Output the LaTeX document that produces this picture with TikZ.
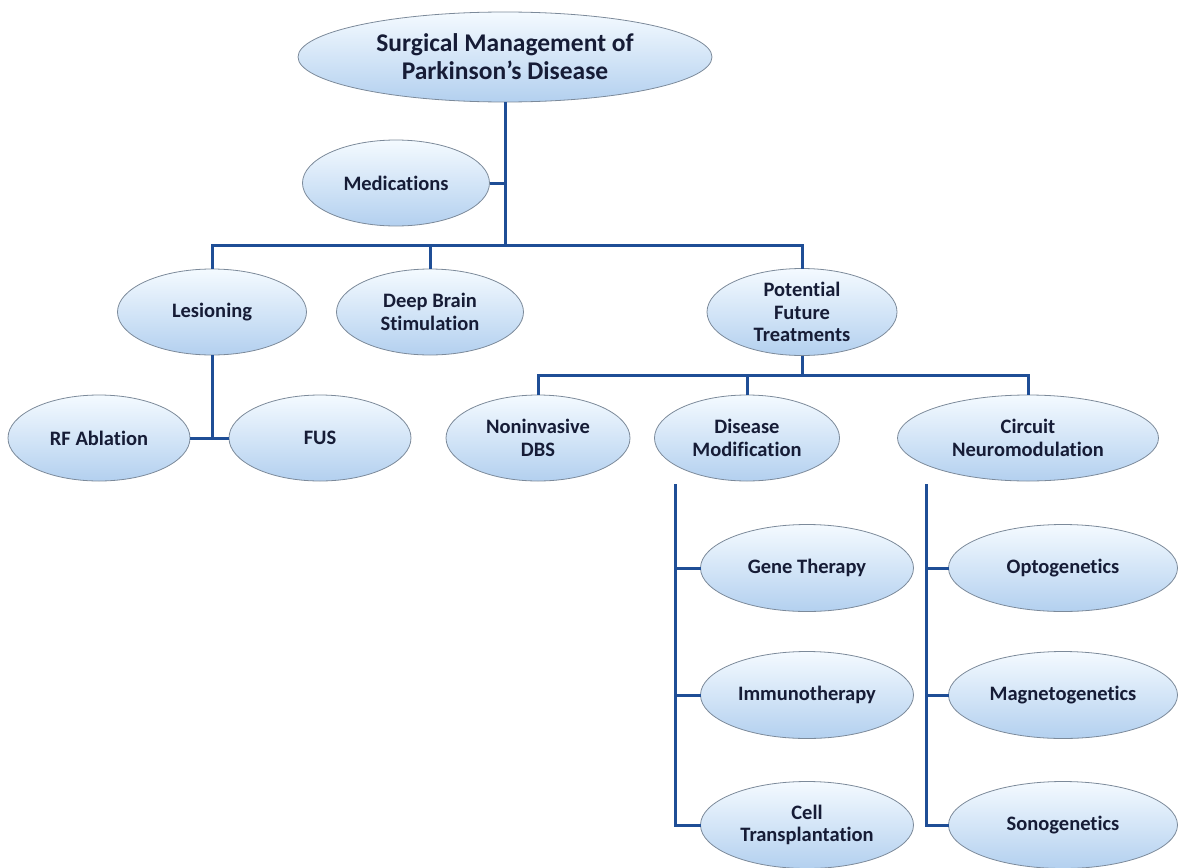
\documentclass[tikz,border=0pt]{standalone}
\usepackage{fontspec}
\setmainfont{Carlito}[Ligatures={NoCommon}]
\usepackage{tikz}
\usetikzlibrary{shapes.geometric}

\definecolor{linkblue}{HTML}{1F4E96}
\definecolor{inkblue}{HTML}{161C36}
\definecolor{ovaltop}{HTML}{F4FAFF}
\definecolor{ovalbot}{HTML}{B3D0EF}
\definecolor{ovalrim}{HTML}{7C8A9A}

\begin{document}
\begin{tikzpicture}[x=1pt,y=-1pt,
  oval/.style n args={2}{ellipse,draw=ovalrim,line width=0.8pt,top color=ovaltop,bottom color=ovalbot,
    minimum width=#1,minimum height=#2,inner sep=0pt,outer sep=0pt,align=center,text=inkblue,
    font=\bfseries\fontsize{20.5}{22.5}\selectfont},
  link/.style={linkblue,line width=3pt}]
\useasboundingbox (0,0) rectangle (1182,867);
% ovals
\node[oval={414}{90},font=\bfseries\fontsize{25.5}{28}\selectfont] (surg) at (505,57) {Surgical Management of\\Parkinson’s Disease};
\node[oval={187}{86}] (med) at (396,183) {Medications};
\node[oval={189}{86}] (les) at (212,312) {Lesioning};
\node[oval={187}{86}] (dbs) at (430,312) {Deep Brain\\Stimulation};
\node[oval={190}{87}] (fut) at (802,312) {Potential\\Future\\Treatments};
\node[oval={182}{86}] (rfa) at (99,438) {RF Ablation};
\node[oval={182}{86}] (fus) at (320,438) {FUS};
\node[oval={184}{86}] (ndbs) at (538,438) {Noninvasive\\DBS};
\node[oval={185}{86}] (dmod) at (747,438) {Disease\\Modification};
\node[oval={261}{86}] (circ) at (1028,438) {Circuit\\Neuromodulation};
\foreach \n/\y/\t in {gene/568/Gene Therapy,immu/695/Immunotherapy,cell/825/{Cell\\Transplantation}}
  \node[oval={213}{87}] (\n) at (807,\y) {\t};
\foreach \n/\y/\t in {opto/568/Optogenetics,magn/695/Magnetogenetics,sono/825/Sonogenetics}
  \node[oval={229}{87}] (\n) at (1063,\y) {\t};
% connectors
\coordinate (j1) at (505,245);
\coordinate (j2) at (802,375);
\coordinate (d0) at (675,484);
\coordinate (c0) at (926,484);
\draw[link] (surg.south) -- (j1);
\draw[link] (med.east) -- (med.east -| j1);
\draw[link] (les.north) |- (j1) -| (fut.north);
\draw[link] (dbs.north) -- (dbs.north |- j1);
\draw[link] (les.south) -- (les.south |- rfa.east);
\draw[link] (rfa.east) -- (fus.west);
\draw[link] (fut.south) -- (j2);
\draw[link] (ndbs.north) |- (j2) -| (circ.north);
\draw[link] (dmod.north) -- (dmod.north |- j2);
\draw[link] (d0) |- (cell.west);
\draw[link] (gene.west) -- (gene.west -| d0);
\draw[link] (immu.west) -- (immu.west -| d0);
\draw[link] (c0) |- (sono.west);
\draw[link] (opto.west) -- (opto.west -| c0);
\draw[link] (magn.west) -- (magn.west -| c0);
\end{tikzpicture}
\end{document}
